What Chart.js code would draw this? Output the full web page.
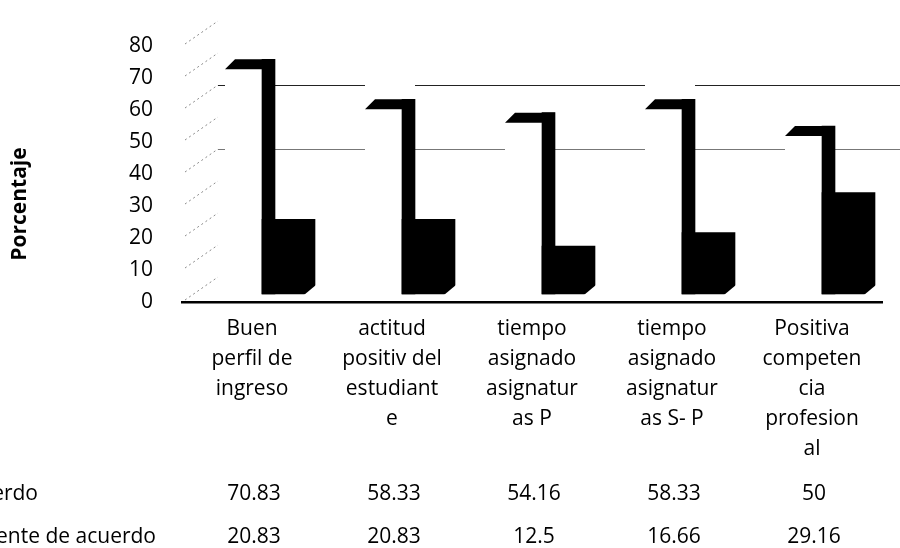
<!DOCTYPE html>
<html>
<head>
<meta charset="utf-8">
<script src="https://cdn.jsdelivr.net/npm/chart.js@4.4.1/dist/chart.umd.min.js"></script>
<style>
  html, body { margin: 0; padding: 0; background: #fff; }
</style>
</head>
<body>
<canvas id="myChart" width="900" height="548"></canvas>
<script>
const categorias = [
    ['Buen', 'perfil de', 'ingreso'],
    ['actitud', 'positiv del', 'estudiant', 'e'],
    ['tiempo', 'asignado', 'asignatur', 'as P'],
    ['tiempo', 'asignado', 'asignatur', 'as S- P'],
    ['Positiva', 'competen', 'cia', 'profesion', 'al']
];
const series = ['De acuerdo', 'Totalmente de acuerdo'];
const deAcuerdo = [70.83, 58.33, 54.16, 58.33, 50];
const totalmenteDeAcuerdo = [20.83, 20.83, 12.5, 16.66, 29.16];

const FUENTE = '"Open Sans", Lato, sans-serif';
const FONDO = 25;      // vertical shift of the back wall
const CAT = 140;       // px per category

// caps, chamfers, back wall and the data table under the axis
const decorado3d = {
    id: 'decorado3d',
    beforeDatasetsDraw(chart) {
        const ctx = chart.ctx;
        const y = chart.scales.y;
        const area = chart.chartArea;
        const tallos = chart.getDatasetMeta(0).data;
        ctx.save();
        ctx.lineWidth = 1;
        ctx.strokeStyle = '#8a8a8a';
        ctx.setLineDash([2, 3]);
        y.ticks.forEach(t => {
            const py = y.getPixelForValue(t.value);
            ctx.beginPath();
            ctx.moveTo(area.left + 3, py - 2);
            ctx.lineTo(area.left + 36, py - FONDO);
            ctx.stroke();
        });
        ctx.setLineDash([]);
        [[60, '#222'], [40, '#777']].forEach(([nivel, color]) => {
            const py = Math.round(y.getPixelForValue(nivel) - FONDO) + 0.5;
            let desde = area.left + 36;
            ctx.strokeStyle = color;
            ctx.beginPath();
            tallos.forEach((el, i) => {
                if (deAcuerdo[i] < nivel - 3) return;
                const izq = el.x - el.width / 2 - 37;
                ctx.moveTo(desde, py);
                ctx.lineTo(izq, py);
                desde = el.x + el.width / 2;
            });
            ctx.moveTo(desde, py);
            ctx.lineTo(chart.width, py);
            ctx.stroke();
        });
        ctx.restore();
    },
    afterDatasetsDraw(chart) {
        const ctx = chart.ctx;
        ctx.save();
        ctx.fillStyle = '#000';
        chart.getDatasetMeta(0).data.forEach(el => {
            const izq = el.x - el.width / 2;
            const der = el.x + el.width / 2;
            ctx.beginPath();
            ctx.moveTo(izq - 27, el.y);
            ctx.lineTo(der, el.y);
            ctx.lineTo(der, el.y + 10);
            ctx.lineTo(izq - 37, el.y + 10);
            ctx.closePath();
            ctx.fill();
        });
        ctx.fillStyle = '#fff';
        chart.getDatasetMeta(1).data.forEach(el => {
            const der = el.x + el.width / 2;
            ctx.beginPath();
            ctx.moveTo(der - 11, el.base + 1);
            ctx.lineTo(der + 1, el.base - 9);
            ctx.lineTo(der + 1, el.base + 1);
            ctx.closePath();
            ctx.fill();
        });
        ctx.restore();
    },
    afterDraw(chart) {
        const ctx = chart.ctx;
        const x = chart.scales.x;
        ctx.save();
        ctx.fillStyle = '#000';
        ctx.textBaseline = 'middle';

        ctx.save();
        ctx.translate(20, 204);
        ctx.rotate(-Math.PI / 2);
        ctx.textAlign = 'center';
        ctx.font = 'bold 21px ' + FUENTE;
        ctx.fillText('Porcentaje', 0, 0);
        ctx.restore();

        ctx.font = '21px ' + FUENTE;
        const filas = [[deAcuerdo, 494, 38], [totalmenteDeAcuerdo, 537, 156]];
        filas.forEach(([valores, py, finEtiqueta], s) => {
            ctx.textAlign = 'right';
            ctx.fillText(series[s], finEtiqueta, py);
            ctx.textAlign = 'center';
            valores.forEach((v, i) => {
                ctx.fillText(String(v), x.getPixelForValue(i) + 2, py);
            });
        });
        ctx.restore();
    }
};

const config = {
    type: 'bar',
    data: {
        labels: categorias,
        datasets: [
            {
                label: series[0],
                data: deAcuerdo.map((v, i) => ({ x: i, y: v })),
                xAxisID: 'xa',
                yAxisID: 'yb',
                grouped: false,
                base: -2.5,
                barThickness: 13,
                maxBarThickness: 13,
                backgroundColor: '#000',
                borderWidth: 0
            },
            {
                label: series[1],
                data: totalmenteDeAcuerdo.map((v, i) => ({ x: i, y: v })),
                xAxisID: 'xb',
                yAxisID: 'yb',
                grouped: false,
                base: -2.5,
                barThickness: 53,
                maxBarThickness: 53,
                backgroundColor: '#000',
                borderWidth: 0
            }
        ]
    },
    options: {
        responsive: false,
        animation: false,
        layout: { padding: { top: 46, right: 18, left: 0, bottom: 0 } },
        plugins: {
            legend: { display: false },
            tooltip: { enabled: false }
        },
        scales: {
            x: {
                type: 'category',
                offset: true,
                grid: { display: false, drawTicks: false },
                border: { display: true, color: '#000', width: 2.5 },
                ticks: {
                    color: '#000',
                    font: { family: FUENTE, size: 21, lineHeight: 30 / 21 },
                    padding: 12,
                    maxRotation: 0,
                    autoSkip: false
                },
                afterFit: s => { s.height = 246; }
            },
            y: {
                type: 'linear',
                position: 'left',
                min: 0,
                max: 80,
                grid: { display: false, drawTicks: false },
                border: { display: false },
                ticks: {
                    stepSize: 10,
                    color: '#000',
                    font: { family: FUENTE, size: 21 },
                    padding: 29
                },
                afterFit: s => { s.width = 182; }
            },
            yb: { type: 'linear', axis: 'y', display: false, min: -5, max: 75 },
            xa: { type: 'linear', axis: 'x', display: false, offset: false, min: -0.5 - 16.5 / CAT, max: 4.5 - 16.5 / CAT },
            xb: { type: 'linear', axis: 'x', display: false, offset: false, min: -0.5 - 36.5 / CAT, max: 4.5 - 36.5 / CAT }
        }
    },
    plugins: [decorado3d]
};

const myChart = new Chart(document.getElementById('myChart'), config);
</script>
</body>
</html>
